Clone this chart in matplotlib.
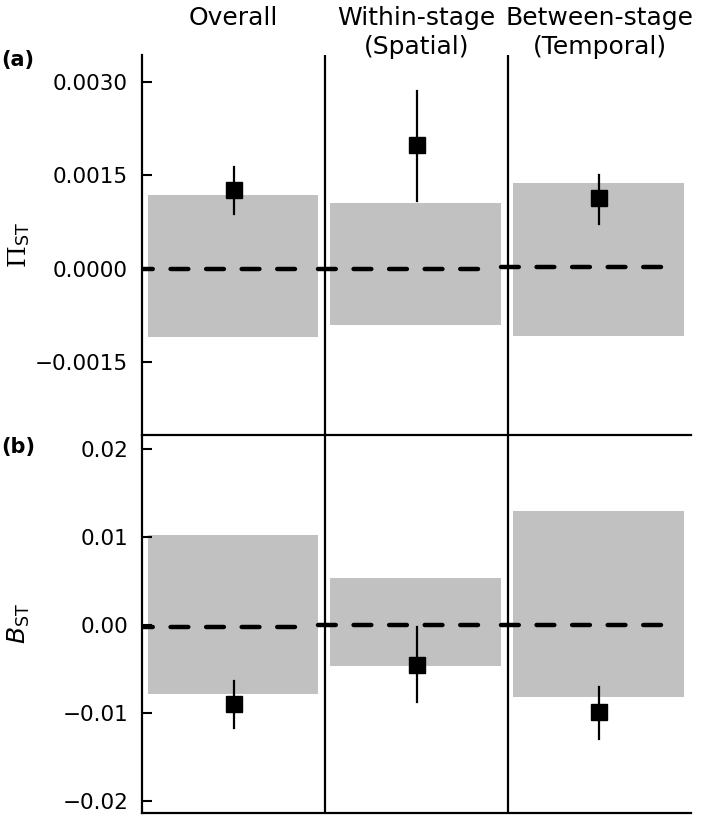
import numpy as np
import matplotlib.pyplot as plt

columns = ["Overall", "Within-stage\n(Spatial)", "Between-stage\n(Temporal)"]

# (a) Pi_ST
pi_obs = [0.00127, 0.00199, 0.00113]
pi_err_lo = [0.00088, 0.00109, 0.00072]
pi_err_hi = [0.00164, 0.00286, 0.00151]
pi_null_lo = [-0.00109, -0.00090, -0.00108]
pi_null_hi = [0.00119, 0.00106, 0.00138]
pi_null_mean = [0.0, 0.0, 0.00003]

# (b) B_ST
b_obs = [-0.0090, -0.0045, -0.0099]
b_err_lo = [-0.0117, -0.0088, -0.0130]
b_err_hi = [-0.0064, -0.0002, -0.0070]
b_null_lo = [-0.0078, -0.0047, -0.0082]
b_null_hi = [0.0102, 0.0054, 0.0130]
b_null_mean = [-0.0002, 0.0, 0.0]

GRAY = "#c1c1c1"


def draw_row(ax, obs, lo, hi, nlo, nhi, nmean):
    for i in range(len(obs)):
        ax.fill_between([i - 0.47, i + 0.46], nlo[i], nhi[i], color=GRAY, lw=0, zorder=1)
        ax.plot([i - 0.54, i + 0.37], [nmean[i], nmean[i]], color="black", lw=3.2,
                dashes=(4, 4), dash_capstyle="round", zorder=2)
        ax.plot([i, i], [lo[i], hi[i]], color="black", lw=1.6, zorder=3)
        ax.plot(i, obs[i], marker="s", ms=12, color="black", zorder=4)
    ax.set_xlim(-0.5, 2.5)
    for xv in (0.5, 1.5):
        ax.axvline(xv, color="black", lw=1.6, zorder=5)
    for s in ("top", "right"):
        ax.spines[s].set_visible(False)
    for s in ("left", "bottom"):
        ax.spines[s].set_linewidth(1.6)
    ax.set_xticks([])
    ax.tick_params(axis="y", direction="in", length=7, width=1.5, labelsize=15.5, pad=10)


fig = plt.figure(figsize=(7.09, 8.16), dpi=100)
ax2 = fig.add_axes([0.2003, 0.0037, 0.7743, 0.4632])
ax1 = fig.add_axes([0.2003, 0.4669, 0.7743, 0.4657])
ax1.patch.set_visible(False)

draw_row(ax1, pi_obs, pi_err_lo, pi_err_hi, pi_null_lo, pi_null_hi, pi_null_mean)
ax1.set_ylim(-0.00267, 0.00343)
ax1.set_yticks([-0.0015, 0.0, 0.0015, 0.0030])
ax1.set_yticklabels(["\u22120.0015", "0.0000", "0.0015", "0.0030"])

draw_row(ax2, b_obs, b_err_lo, b_err_hi, b_null_lo, b_null_hi, b_null_mean)
ax2.set_ylim(-0.02136, 0.0216)
ax2.set_yticks([-0.02, -0.01, 0.0, 0.01, 0.02])
ax2.set_yticklabels(["\u22120.02", "\u22120.01", "0.00", "0.01", "0.02"])

# column headers
for i, name in enumerate(columns):
    ax1.text(i, 1.13, name, transform=ax1.get_xaxis_transform(), ha="center", va="top",
             fontsize=18, linespacing=1.3)

ax1.set_ylabel(r"$\Pi_{\mathsf{ST}}$", fontsize=18, math_fontfamily="dejavuserif")
ax2.set_ylabel(r"$B_{\mathrm{ST}}$", fontsize=18)
ax1.yaxis.set_label_coords(-0.2, 0.5)
ax2.yaxis.set_label_coords(-0.2, 0.5)

fig.text(0.002, 1 - 60 / 816, "(a)", fontsize=15, fontweight="bold", va="center")
fig.text(0.002, 1 - 447 / 816, "(b)", fontsize=15, fontweight="bold", va="center")

fig.savefig("out.png", dpi=100)
